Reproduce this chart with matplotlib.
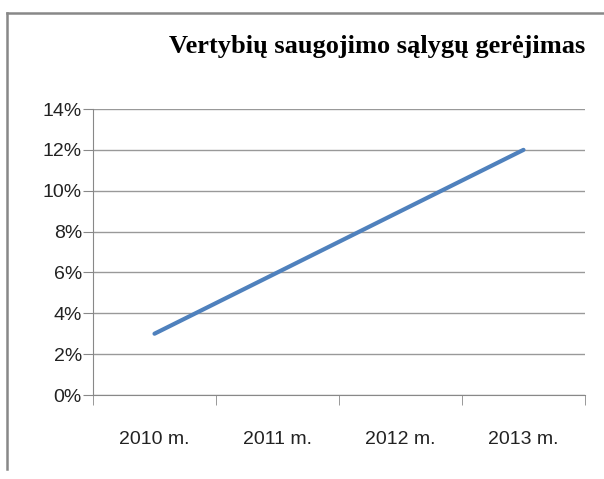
import matplotlib.pyplot as plt
from matplotlib.lines import Line2D
from matplotlib.ticker import FuncFormatter, FixedLocator

years = ['2010 m.', '2011 m.', '2012 m.', '2013 m.']
values = [3, 6, 9, 12]
title = 'Vertybių saugojimo sąlygų gerėjimas'

plt.rcParams['font.family'] = ['Liberation Sans Narrow', 'Liberation Sans', 'DejaVu Sans']

fig = plt.figure(figsize=(6.04, 4.79), dpi=100)
ax = fig.add_axes([93/604, 1-395/479, (585-93)/604, (395-109)/479])

x = list(range(len(years)))
ax.plot(x, values, color='#4F81BD', linewidth=3, solid_capstyle='round', zorder=3)

ax.set_xlim(-0.5, len(years)-0.5)
ax.set_ylim(0, 14)
ax.set_yticks(range(0, 15, 2))
ax.yaxis.set_major_formatter(FuncFormatter(lambda v, p: '%d%%' % v))
ax.set_xticks(x)
ax.set_xticklabels(years)
ax.xaxis.set_minor_locator(FixedLocator([i - 0.5 for i in range(len(years)+1)]))
ax.tick_params(axis='x', which='major', length=0, pad=26, labelsize=14, labelcolor='#222222')
ax.tick_params(axis='x', which='minor', length=7, color='#888888', direction='out')
ax.tick_params(axis='y', length=7, color='#888888', labelsize=14, labelcolor='#222222', pad=1)

ax.grid(axis='y', color='#999999', linewidth=1)
ax.set_axisbelow(True)
for s in ['top', 'right']:
    ax.spines[s].set_visible(False)
ax.spines['left'].set_color('#888888')
ax.spines['bottom'].set_color('#888888')

fig.text(585/604, 1-47/479, title, ha='right', va='center', fontsize=19,
         fontweight='bold', family=['Liberation Serif', 'DejaVu Serif'])

# outer chart frame
fig.add_artist(Line2D([7/604, 7/604], [0.02, 1-13/479], color='#888888', linewidth=1.8))
fig.add_artist(Line2D([7/604, 1.0], [1-13/479, 1-13/479], color='#888888', linewidth=1.8))

fig.savefig('out.png', dpi=100)
